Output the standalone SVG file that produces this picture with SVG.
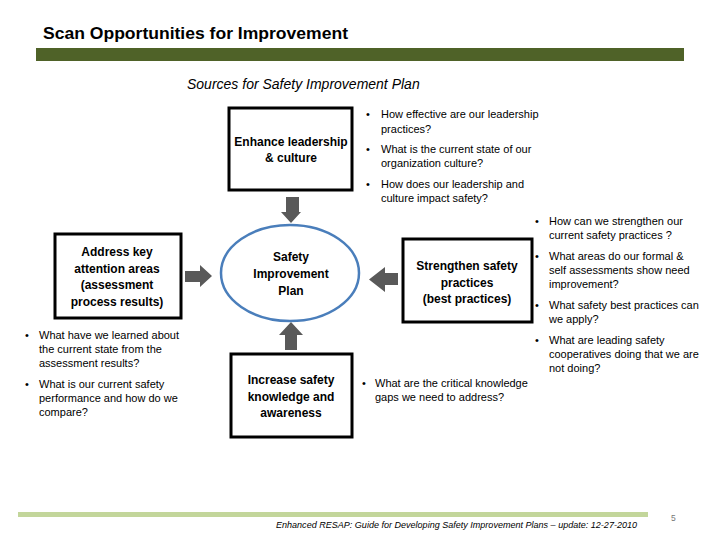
<svg xmlns="http://www.w3.org/2000/svg" width="720" height="540" viewBox="0 0 720 540">
<style>
.box{fill:#fff;stroke:#000;stroke-width:3}
.bt{font-family:"Liberation Sans",Arial,sans-serif;font-size:12px;font-weight:bold;text-anchor:middle;fill:#000}
.q{font-family:"Liberation Sans",Arial,sans-serif;font-size:11px;fill:#000}
.arr{fill:#595959}
</style>
<rect width="720" height="540" fill="#fff"/>
<text x="43" y="39" font-family="Liberation Sans,Arial,sans-serif" font-size="17" font-weight="bold" fill="#000" textLength="305" lengthAdjust="spacingAndGlyphs">Scan Opportunities for Improvement</text>
<rect x="36" y="48" width="648" height="13" fill="#4f6228"/>
<text x="187" y="89" font-family="Liberation Sans,Arial,sans-serif" font-size="14" font-style="italic" fill="#000">Sources for Safety Improvement Plan</text>

<g id="connectors">
<polygon class="arr" points="286,197 299,197 299,212 301,212 291,223 281,212 286,212"/>
<polygon class="arr" points="285,350 297,350 297,335 303,335 291,322 279,335 285,335"/>
<polygon class="arr" points="185,271 200,271 200,265 212,276 200,287 200,282 185,282"/>
<polygon class="arr" points="398,273 385,273 385,267 369,279.5 385,292 385,285 398,285"/>
</g>

<g id="enhance">
<rect class="box" x="229" y="108" width="123" height="82"/>
<text class="bt" x="291" y="146">Enhance leadership</text>
<text class="bt" x="291" y="162">&amp; culture</text>
</g>

<g id="plan">
<ellipse cx="290" cy="273" rx="69" ry="48" fill="#fff" stroke="#4a7ebb" stroke-width="2.5"/>
<text class="bt" x="291" y="261">Safety</text>
<text class="bt" x="291" y="278">Improvement</text>
<text class="bt" x="291" y="295">Plan</text>
</g>

<g id="address">
<rect class="box" x="55" y="234" width="126" height="84"/>
<text class="bt" x="117" y="256">Address key</text>
<text class="bt" x="117" y="273">attention areas</text>
<text class="bt" x="117" y="289">(assessment</text>
<text class="bt" x="117" y="306">process results)</text>
</g>

<g id="strengthen">
<rect class="box" x="403" y="239" width="129" height="83"/>
<text class="bt" x="467" y="270">Strengthen safety</text>
<text class="bt" x="467" y="287">practices</text>
<text class="bt" x="467" y="303">(best practices)</text>
</g>

<g id="increase">
<rect class="box" x="231" y="354" width="121" height="83"/>
<text class="bt" x="291" y="384">Increase safety</text>
<text class="bt" x="291" y="401">knowledge and</text>
<text class="bt" x="291" y="417">awareness</text>
</g>

<g id="questions-top">
<text class="q" x="366" y="118">•</text>
<text class="q" x="381" y="118">How effective are our leadership</text>
<text class="q" x="381" y="133">practices?</text>
<text class="q" x="366" y="153">•</text>
<text class="q" x="381" y="153">What is the current state of our</text>
<text class="q" x="381" y="167">organization culture?</text>
<text class="q" x="366" y="188">•</text>
<text class="q" x="381" y="188">How does our leadership and</text>
<text class="q" x="381" y="202">culture impact safety?</text>
</g>

<g id="questions-right">
<text class="q" x="535" y="225">•</text>
<text class="q" x="549" y="225">How can we strengthen our</text>
<text class="q" x="549" y="239">current safety practices ?</text>
<text class="q" x="535" y="260">•</text>
<text class="q" x="549" y="260">What areas do our formal &amp;</text>
<text class="q" x="549" y="274">self assessments show need</text>
<text class="q" x="549" y="288">improvement?</text>
<text class="q" x="535" y="309">•</text>
<text class="q" x="549" y="309">What safety best practices can</text>
<text class="q" x="549" y="323">we apply?</text>
<text class="q" x="535" y="344">•</text>
<text class="q" x="549" y="344">What are leading safety</text>
<text class="q" x="549" y="358">cooperatives doing that we are</text>
<text class="q" x="549" y="372">not doing?</text>
</g>

<g id="questions-left">
<text class="q" x="25" y="339">•</text>
<text class="q" x="39" y="339">What have we learned about</text>
<text class="q" x="39" y="353">the current state from the</text>
<text class="q" x="39" y="367">assessment results?</text>
<text class="q" x="25" y="388">•</text>
<text class="q" x="39" y="388">What is our current safety</text>
<text class="q" x="39" y="402">performance and how do we</text>
<text class="q" x="39" y="416">compare?</text>
</g>

<g id="questions-middle">
<text class="q" x="362" y="387">•</text>
<text class="q" x="375" y="387">What are the critical knowledge</text>
<text class="q" x="375" y="401">gaps we need to address?</text>
</g>

<rect x="18" y="512" width="630" height="5" fill="#c3d69b"/>
<text x="276" y="528" font-family="Liberation Sans,Arial,sans-serif" font-size="8.5" font-style="italic" fill="#000" textLength="361" lengthAdjust="spacingAndGlyphs">Enhanced RESAP:  Guide for Developing Safety Improvement Plans – update:  12-27-2010</text>
<text x="671" y="521" font-family="Liberation Sans,Arial,sans-serif" font-size="8.5" fill="#777">5</text>
</svg>
